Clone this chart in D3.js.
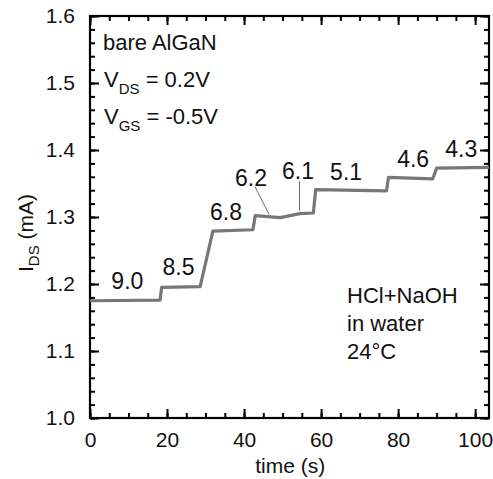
<!DOCTYPE html>
<html>
<head>
<meta charset="utf-8">
<script src="https://cdn.jsdelivr.net/npm/d3@7"></script>
<style>
  body { margin: 0; background: #fff; }
  text { font-family: "Liberation Sans", Arial, Helvetica, sans-serif; fill: #111; }
</style>
</head>
<body>
<svg width="493" height="479"></svg>
<script>
// trace of the drain current
var time    = [0, 18.2, 18.6, 28.6, 31.9, 42.3, 42.9, 49.4, 54.5, 58.0, 58.6, 77.0, 77.5, 89.0, 90.0, 103.6];
var current = [1.175, 1.176, 1.195, 1.196, 1.279, 1.281, 1.302, 1.299, 1.305, 1.306, 1.341, 1.339, 1.359, 1.357, 1.373, 1.374];

// pH labels and where they sit (in data units)
var phLabels = ["9.0", "8.5", "6.8", "6.2", "6.1", "5.1", "4.6", "4.3"];
var labelTime = [9.7, 23.0, 35.3, 41.8, 54.0, 66.5, 83.9, 96.4];
var labelCurr = [1.192, 1.213, 1.2955, 1.3463, 1.3567, 1.3552, 1.375, 1.390];

// leader lines for 6.2 and 6.1
var leaderFrom = [[42.8, 1.3455], [54.4, 1.3535]];
var leaderTo   = [[46.5, 1.304], [54.4, 1.3095]];

var xTicks = [0, 20, 40, 60, 80, 100];
var yTicks = [1.0, 1.1, 1.2, 1.3, 1.4, 1.5, 1.6];

var svg = d3.select("svg"),
    margin = {left: 90, top: 16, right: 4, bottom: 61},
    width = 493 - margin.left - margin.right,
    height = 479 - margin.top - margin.bottom;

var x = d3.scaleLinear().domain([0, 103.6]).range([0, width]);
var y = d3.scaleLinear().domain([1.0, 1.6]).range([height, 0]);

var g = svg.append("g").attr("transform", "translate(" + margin.left + "," + margin.top + ")");

// frame
g.append("rect").attr("width", width).attr("height", height)
  .attr("fill", "none").attr("stroke", "#000").attr("stroke-width", 2.2);

// minor ticks, all four sides
var xMinor = d3.range(0, 104, 5), yMinor = d3.range(1.0, 1.601, 0.02);
function minor(axis, vals) { return axis.tickValues(vals).tickSizeInner(-5).tickSizeOuter(0).tickFormat(""); }

g.append("g").attr("transform", "translate(0," + height + ")").call(minor(d3.axisBottom(x), xMinor));
g.append("g").call(minor(d3.axisTop(x), xMinor));
g.append("g").call(minor(d3.axisLeft(y), yMinor));
g.append("g").attr("transform", "translate(" + width + ",0)").call(minor(d3.axisRight(y), yMinor));

// major ticks
g.append("g").attr("transform", "translate(0," + height + ")")
  .call(d3.axisBottom(x).tickValues(xTicks).tickSizeInner(-9).tickSizeOuter(0).tickPadding(14).tickFormat(d3.format("d")));
g.append("g").call(d3.axisTop(x).tickValues(xTicks).tickSizeInner(-9).tickSizeOuter(0).tickFormat(""));
g.append("g")
  .call(d3.axisLeft(y).tickValues(yTicks).tickSizeInner(-9).tickSizeOuter(0).tickPadding(15).tickFormat(d3.format(".1f")));
g.append("g").attr("transform", "translate(" + width + ",0)")
  .call(d3.axisRight(y).tickValues(yTicks).tickSizeInner(-9).tickSizeOuter(0).tickFormat(""));

g.selectAll(".domain").remove();
g.selectAll(".tick line").attr("stroke", "#000").attr("stroke-width", 2);
g.selectAll(".tick text").attr("font-size", 21).attr("fill", "#111")
  .attr("font-family", "Liberation Sans, Arial, sans-serif");

// the trace
var line = d3.line().x(function(d, i) { return x(time[i]); }).y(function(d) { return y(d); });
g.append("path").datum(current).attr("d", line)
  .attr("fill", "none").attr("stroke", "#777").attr("stroke-width", 3.2)
  .attr("stroke-linejoin", "round");

// pH labels
g.selectAll(".ph").data(phLabels).enter().append("text")
  .attr("x", function(d, i) { return x(labelTime[i]); })
  .attr("y", function(d, i) { return y(labelCurr[i]); })
  .attr("text-anchor", "middle").attr("font-size", 23)
  .text(function(d) { return d; });

g.selectAll(".leader").data(leaderFrom).enter().append("line")
  .attr("x1", function(d) { return x(d[0]); }).attr("y1", function(d) { return y(d[1]); })
  .attr("x2", function(d, i) { return x(leaderTo[i][0]); }).attr("y2", function(d, i) { return y(leaderTo[i][1]); })
  .attr("stroke", "#444").attr("stroke-width", 0.8);

// top-left notes
var notes = g.append("g").attr("font-size", 22);
notes.append("text").attr("x", 13).attr("y", 34).text("bare AlGaN");
var vds = notes.append("text").attr("x", 14).attr("y", 71);
vds.append("tspan").text("V");
vds.append("tspan").attr("font-size", 15).attr("dy", 7).text("DS");
vds.append("tspan").attr("dy", -7).text(" = 0.2V");
var vgs = notes.append("text").attr("x", 14).attr("y", 108);
vgs.append("tspan").text("V");
vgs.append("tspan").attr("font-size", 15).attr("dy", 7).text("GS");
vgs.append("tspan").attr("dy", -7).text(" = -0.5V");

// bottom-right notes
var cond = g.append("g").attr("font-size", 22);
cond.append("text").attr("x", 257).attr("y", 287).text("HCl+NaOH");
cond.append("text").attr("x", 257).attr("y", 315).text("in water");
cond.append("text").attr("x", 257).attr("y", 343).text("24°C");

// axis titles
svg.append("text").attr("x", margin.left + x(52)).attr("y", 473)
  .attr("text-anchor", "middle").attr("font-size", 21).text("time (s)");

var yl = svg.append("text").attr("transform", "translate(33,233) rotate(-90)")
  .attr("text-anchor", "middle").attr("font-size", 21);
yl.append("tspan").text("I");
yl.append("tspan").attr("font-size", 15).attr("dy", 6).text("DS");
yl.append("tspan").attr("dy", -6).text(" (mA)");
</script>
</body>
</html>
